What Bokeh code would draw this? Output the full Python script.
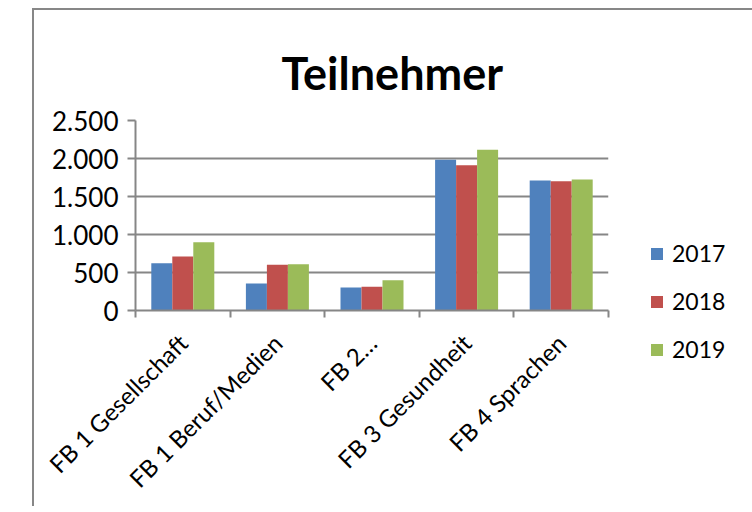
import numpy as np
from math import pi
from bokeh.plotting import figure
from bokeh.models import (ColumnDataSource, Range1d, LinearAxis, FixedTicker,
                          Legend, LegendItem)
from bokeh.transform import dodge
from bokeh.embed import file_html
from bokeh.resources import INLINE

# ---- data ----
categories = ["FB 1 Gesellschaft", "FB 1 Beruf/Medien", "FB 2…",
              "FB 3 Gesundheit", "FB 4 Sprachen"]
years = ["2017", "2018", "2019"]
v2017 = [622, 355, 303, 1982, 1711]
v2018 = [710, 601, 311, 1912, 1701]
v2019 = [899, 609, 399, 2114, 1724]
y_ticks = [0, 500, 1000, 1500, 2000, 2500]
y_tick_labels = ["0", "500", "1.000", "1.500", "2.000", "2.500"]
colors = ["#4F81BD", "#C0504D", "#9BBB59"]
title_text = "Teilnehmer"

FONT = "Lato"
GRID = "#868686"

n = len(categories)
centers = list(np.arange(n) + 0.5)
src = ColumnDataSource(dict(x=centers, y2017=v2017, y2018=v2018, y2019=v2019))

p = figure(frame_width=473, frame_height=190,
           x_range=Range1d(0, n), y_range=Range1d(y_ticks[0], y_ticks[-1]),
           output_backend="svg", toolbar_location=None,
           x_axis_location=None, y_axis_location=None,
           min_border_left=101, min_border_right=142,
           min_border_top=110, min_border_bottom=196,
           title=title_text,
           margin=(8, 0, 0, 32),
           styles={"border-left": "2px solid #878787",
                   "border-top": "2px solid #878787"})
p.outline_line_color = None
p.background_fill_color = "white"
p.border_fill_color = "white"

p.title.align = "left"
p.title.offset = 146
p.title.vertical_align = "top"
p.title.standoff = 38
p.title.text_font = FONT
p.title.text_font_style = "bold"
p.title.text_font_size = "45px"
p.title.text_color = "black"

# bars
bw = 0.222
renderers = []
for i, (yr, col) in enumerate(zip(years, colors)):
    r = p.vbar(x=dodge("x", (i - 1) * bw, range=p.x_range), top="y" + yr,
               width=bw, bottom=0, source=src, fill_color=col, line_color=None)
    renderers.append(r)

# y axis
yax = LinearAxis(ticker=FixedTicker(ticks=y_ticks),
                 major_label_overrides={t: l for t, l in zip(y_ticks, y_tick_labels)})
yax.axis_line_color = GRID
yax.axis_line_width = 2
yax.major_tick_line_color = GRID
yax.major_tick_line_width = 2
yax.major_tick_out = 8
yax.major_tick_in = 0
yax.minor_tick_line_color = None
yax.major_label_standoff = 9
yax.major_label_text_font = FONT
yax.major_label_text_font_size = "26px"
yax.major_label_text_color = "black"
p.add_layout(yax, "left")

# grid
p.xgrid.visible = False
p.ygrid.ticker = FixedTicker(ticks=y_ticks)
p.ygrid.grid_line_color = GRID
p.ygrid.grid_line_width = 2

# x axis: boundary tick marks
xax_ticks = LinearAxis(ticker=FixedTicker(ticks=list(range(n + 1))))
xax_ticks.axis_line_color = GRID
xax_ticks.axis_line_width = 2
xax_ticks.major_tick_line_color = GRID
xax_ticks.major_tick_line_width = 2
xax_ticks.major_tick_out = 7
xax_ticks.major_tick_in = 0
xax_ticks.minor_tick_line_color = None
xax_ticks.major_label_text_font_size = "0px"
xax_ticks.major_label_standoff = 0
xax_ticks.major_label_overrides = {i: "" for i in range(n + 1)}
p.add_layout(xax_ticks, "below")

# x axis: category labels at centres
xax_lab = LinearAxis(ticker=FixedTicker(ticks=centers),
                     major_label_overrides={c: lab for c, lab in zip(centers, categories)})
xax_lab.axis_line_color = None
xax_lab.major_tick_line_color = None
xax_lab.minor_tick_line_color = None
xax_lab.major_label_orientation = pi / 4
xax_lab.major_label_standoff = 15
xax_lab.major_label_text_font = FONT
xax_lab.major_label_text_font_size = "24px"
xax_lab.major_label_text_color = "black"
p.add_layout(xax_lab, "below")

legend = Legend(items=[LegendItem(label=yr, renderers=[r]) for yr, r in zip(years, renderers)],
                location=(41, -53), orientation="vertical",
                glyph_width=15, glyph_height=15, label_standoff=8, spacing=20,
                padding=0, margin=0, border_line_color=None,
                background_fill_alpha=0,
                label_text_font=FONT, label_text_font_size="23px",
                label_text_color="black")
p.add_layout(legend, "right")

open("out.html", "w").write(file_html(p, INLINE))
